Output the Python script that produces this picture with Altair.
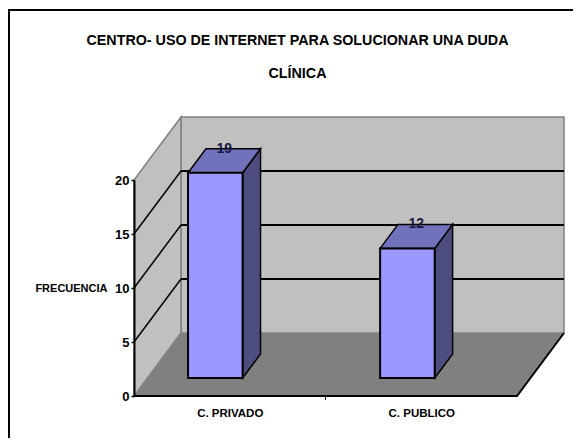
import altair as alt
import pandas as pd

title_lines = ["CENTRO- USO DE INTERNET PARA SOLUCIONAR UNA DUDA", "CLÍNICA"]
categories = ["C. PRIVADO", "C. PUBLICO"]
values = [19, 12]
y_ticks = [0, 5, 10, 15, 20]
y_title = "FRECUENCIA"

FONT = "Liberation Sans, Arial"
WALL, FLOOR, EDGE = "#C0C0C0", "#808080", "#808080"
FRONT, TOP, SIDE = "#9999FF", "#7272BC", "#4D4D80"

# oblique projection of the Excel-style 3-D box, in axis units
DX, DY = 47 / 191.5, 63 / 10.8
BAR_W, D0, D1 = 0.285, 0.286, 0.667
BAR_X = [0.212, 1.215]
YMAX = y_ticks[-1]
XMAX = len(categories)

xs = alt.Scale(domain=[0, XMAX], nice=False, zero=False)
ys = alt.Scale(domain=[0, YMAX], nice=False, zero=False)

label_expr = " : ".join(
    f"datum.value < {i + 1} ? '{c}'" for i, c in enumerate(categories[:-1])
) + f" : '{categories[-1]}'"
x_axis = alt.Axis(
    title=None, values=[i + 0.5 for i in range(XMAX)], labelExpr=label_expr, ticks=False, domain=False,
    grid=False, labelFont=FONT, labelFontSize=11.5, labelFontWeight="bold", labelColor="black", labelPadding=11,
    labelAngle=0, zindex=1)
y_axis = alt.Axis(
    values=y_ticks, title=y_title, titleAngle=0, titleFont=FONT, titleFontSize=11,
    titleFontWeight="bold", titleColor="black", titleAlign="right", titleBaseline="middle",
    titleX=-27, titleY=108, grid=False, domainColor="black", domainWidth=2,
    tickColor="black", tickSize=3, tickWidth=1.5, labelFont=FONT, labelFontSize=13,
    labelFontWeight="bold", labelColor="black", labelPadding=2, zindex=1)


def X(f="x", **kw):
    return alt.X(f"{f}:Q", scale=xs, axis=x_axis, **kw)


def Y(f="y", **kw):
    return alt.Y(f"{f}:Q", scale=ys, axis=y_axis, **kw)


def band(rows, fill, stroke=None, sw=1.0):
    """Polygon whose left and right sides are vertical."""
    kw = {"stroke": stroke, "strokeWidth": sw} if stroke else {}
    return alt.Chart(pd.DataFrame(rows, columns=["x", "y", "y2"])).mark_area(
        color=fill, opacity=1, **kw
    ).encode(
        x=X(), y=Y(), y2="y2:Q"
    )


def slab(rows, fill, stroke=None, sw=1.0):
    """Polygon whose top and bottom sides are horizontal."""
    kw = {"stroke": stroke, "strokeWidth": sw} if stroke else {}
    return alt.Chart(pd.DataFrame(rows, columns=["y", "x", "x2"])).mark_area(
        color=fill, opacity=1, orient="horizontal", **kw
    ).encode(
        y=Y(), x=X(), x2="x2:Q"
    )


def line(pts, color="black", sw=2.0):
    return alt.Chart(pd.DataFrame(pts, columns=["x", "y"])).mark_line(
        color=color, strokeWidth=sw
    ).encode(x=X(), y=Y())


layers = []
# back wall, left wall, floor
layers.append(band([(DX, DY, DY + YMAX), (XMAX + DX, DY, DY + YMAX)], WALL, EDGE, 1.5))
layers.append(band([(0, 0, YMAX), (DX, DY, DY + YMAX)], WALL, EDGE, 1.5))
layers.append(slab([(0, 0, XMAX), (DY, DX, XMAX + DX)], FLOOR))

# gridlines: diagonal on the left wall, horizontal on the back wall
for t in y_ticks[1:-1]:
    layers.append(line([(0, t), (DX, t + DY)], sw=1.5))
    layers.append(line([(DX, t + DY), (XMAX + DX, t + DY)]))

# floor outer edges
layers.append(line([(0, 0), (XMAX, 0), (XMAX + DX, DY)], sw=2.0))

# bars
for bx, v in zip(BAR_X, values):
    fx0, fx1 = bx + D0 * DX, bx + BAR_W + D0 * DX
    bx0, bx1 = bx + D1 * DX, bx + BAR_W + D1 * DX
    fy0, fy1 = D0 * DY, D1 * DY
    layers.append(band([(fx1, fy0, v + fy0), (bx1, fy1, v + fy1)], SIDE, "black", 1.5))
    layers.append(slab([(v + fy0, fx0, fx1), (v + fy1, bx0, bx1)], TOP, "black", 1.5))
    layers.append(band([(fx0, fy0, v + fy0), (fx1, fy0, v + fy0)], FRONT, "black", 2.0))

# data labels
lab = pd.DataFrame({
    "x": [b + BAR_W / 2 + (D0 + D1) / 2 * DX for b in BAR_X],
    "y": [v + D1 * DY for v in values],
    "t": [str(v) for v in values],
})
layers.append(
    alt.Chart(lab).mark_text(font=FONT, fontSize=14, fontWeight="bold", color="#1a1a40", baseline="middle", dy=0)
    .encode(x=X(), y=Y(), text="t:N")
)

# x tick between categories
layers.append(
    alt.Chart(pd.DataFrame({"x": [XMAX / 2], "y": [0], "y2": [-0.35]}))
    .mark_rule(color="black", strokeWidth=1)
    .encode(x=X(), y=Y(), y2="y2:Q")
)

# chart frame (top and left only reach the picture)
layers.append(alt.Chart(pd.DataFrame({"a": [0]})).mark_rule(color="black", strokeWidth=2).encode(
    x=alt.value(-125), y=alt.value(-170), y2=alt.value(258)))
layers.append(alt.Chart(pd.DataFrame({"a": [0]})).mark_rule(color="black", strokeWidth=2).encode(
    x=alt.value(-126), x2=alt.value(439), y=alt.value(-170)))

chart = alt.layer(*layers).properties(
    width=383,
    height=216,
    padding={"left": 126, "top": 172, "right": 56, "bottom": 42},
    autosize=alt.AutoSizeParams(type="none"),
    title=alt.TitleParams(
        title_lines, anchor="middle", font=FONT, fontSize=14.3, fontWeight="bold",
        color="black", lineHeight=33, offset=0, dx=-28, dy=72,
    ),
).configure_view(stroke=None).configure(background="white")

chart.save("out.html", embed_options={"renderer": "svg", "actions": False})
